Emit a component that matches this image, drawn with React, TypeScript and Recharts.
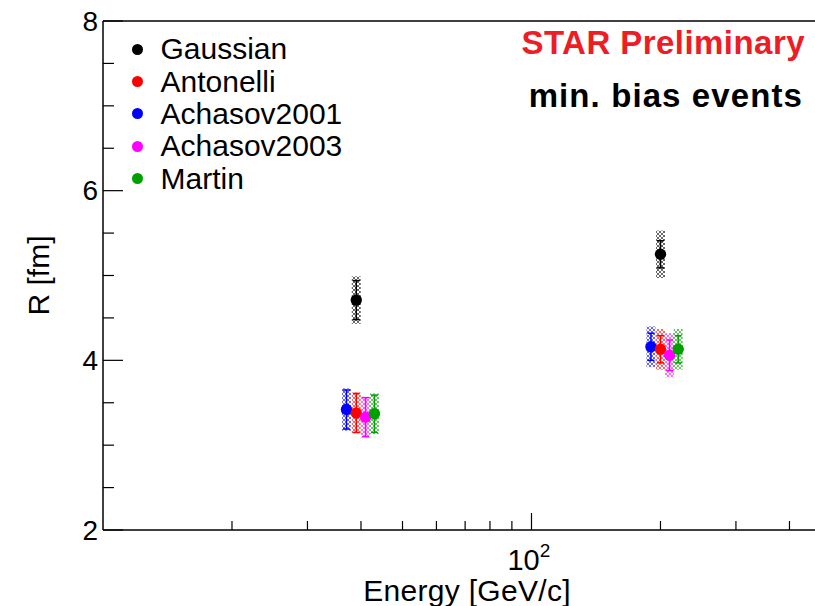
import React from "react";
import {
  ScatterChart,
  Scatter,
  XAxis,
  YAxis,
  ErrorBar,
  ReferenceLine,
  Label,
} from "recharts";

// beam energies as plotted (series are shifted slightly so the bars don't overlap)
const gaussianE = [39, 200];
const antonelliE = [39, 200];
const achasov2001E = [37, 190];
const achasov2003E = [41, 210];
const martinE = [43, 220];

// fitted radius R [fm]
const gaussianR = [4.71, 5.25];
const antonelliR = [3.38, 4.13];
const achasov2001R = [3.42, 4.16];
const achasov2003R = [3.33, 4.06];
const martinR = [3.37, 4.13];

// statistical errors
const gaussianStat = [0.23, 0.16];
const antonelliStat = [0.23, 0.16];
const achasov2001Stat = [0.23, 0.16];
const achasov2003Stat = [0.23, 0.18];
const martinStat = [0.22, 0.16];

// systematic errors (hatched bands)
const gaussianSys = [0.28, 0.28];
const antonelliSys = [0.24, 0.24];
const achasov2001Sys = [0.25, 0.24];
const achasov2003Sys = [0.24, 0.26];
const martinSys = [0.24, 0.24];

const xTicks = [20, 30, 40, 50, 60, 70, 80, 90, 100, 200, 300, 400];
const yTicks = [2, 2.5, 3, 3.5, 4, 4.5, 5, 5.5, 6, 6.5, 7, 7.5, 8];

const build = (e: number[], r: number[], stat: number[], sys: number[]) =>
  e.map((x, i) => ({ e: x, r: r[i], stat: stat[i], sys: sys[i] }));

const series = [
  { id: "gauss", name: "Gaussian", color: "#000000", data: build(gaussianE, gaussianR, gaussianStat, gaussianSys) },
  { id: "anto", name: "Antonelli", color: "#ff0000", data: build(antonelliE, antonelliR, antonelliStat, antonelliSys) },
  { id: "ach01", name: "Achasov2001", color: "#0000ff", data: build(achasov2001E, achasov2001R, achasov2001Stat, achasov2001Sys) },
  { id: "ach03", name: "Achasov2003", color: "#ff00ff", data: build(achasov2003E, achasov2003R, achasov2003Stat, achasov2003Sys) },
  { id: "martin", name: "Martin", color: "#00a000", data: build(martinE, martinR, martinStat, martinSys) },
];

// draw order: blue, red, magenta, green on top
const drawOrder = ["gauss", "ach01", "anto", "ach03", "martin"];

const FONT = "'Liberation Sans', Arial, Helvetica, sans-serif";

const YTick = (props: any) => {
  const { x, y, payload } = props;
  const major = payload.value % 2 === 0;
  return (
    <g>
      <line x1={x} x2={x + (major ? 20 : 11)} y1={y} y2={y} stroke="#000" strokeWidth={1.2} />
      {major && (
        <text x={x - 5} y={y} textAnchor="end" dominantBaseline="central" fontSize={28} fontFamily={FONT} fill="#000">
          {payload.value}
        </text>
      )}
    </g>
  );
};

const XTick = (props: any) => {
  const { x, y, payload } = props;
  const major = payload.value === 100;
  return (
    <g>
      <line x1={x} x2={x} y1={y} y2={y - (major ? 17 : 9)} stroke="#000" strokeWidth={1.2} />
      {major && (
        <text x={x - 24} y={y + 40} textAnchor="start" fontSize={29} fontFamily={FONT} fill="#000">
          10
          <tspan dy={-13} fontSize={19}>2</tspan>
        </text>
      )}
    </g>
  );
};

const YTitle = (props: any) => {
  const { viewBox } = props;
  const cx = viewBox.x + viewBox.width - 65;
  const cy = viewBox.y + viewBox.height / 2;
  return (
    <text x={cx} y={cy} transform={`rotate(-90 ${cx} ${cy})`} textAnchor="middle" dominantBaseline="central" fontSize={30} fontFamily={FONT} fill="#000">
      R [fm]
    </text>
  );
};

const XTitle = (props: any) => {
  const { viewBox } = props;
  const cx = viewBox.x + viewBox.width / 2;
  return (
    <text x={cx} y={viewBox.y + 71} textAnchor="middle" fontSize={30} letterSpacing={0.3} fontFamily={FONT} fill="#000">
      Energy [GeV/c]
    </text>
  );
};

const Dot = (color: string) => (props: any) => (
  <circle cx={props.cx} cy={props.cy} r={5.7} fill={color} />
);

export default function App() {
  const ordered = drawOrder.map((id) => series.find((s) => s.id === id)!);
  return (
    <div style={{ position: "fixed", left: 0, top: 0, width: 815, height: 606, overflow: "hidden", background: "#fff" }}>
      <svg width={0} height={0} style={{ position: "absolute" }}>
        <defs>
          {series.map((s) => (
            <pattern key={s.id} id={`hatch-${s.id}`} width={4} height={4} patternUnits="userSpaceOnUse">
              <path d="M0,0 L4,4 M4,0 L0,4" stroke={s.color} strokeWidth={0.8} strokeOpacity={0.75} />
            </pattern>
          ))}
        </defs>
      </svg>
      <ScatterChart width={851} height={606} margin={{ top: 21, right: 20, bottom: 16, left: 43 }}>
        <XAxis
          type="number"
          dataKey="e"
          scale="log"
          domain={[10, 500]}
          allowDataOverflow
          ticks={xTicks}
          interval={0}
          height={60}
          tickSize={0}
          tickMargin={0}
          tick={<XTick />}
          axisLine={{ stroke: "#000", strokeWidth: 1.5 }}
        >
          <Label content={<XTitle />} />
        </XAxis>
        <YAxis
          type="number"
          dataKey="r"
          domain={[2, 8]}
          allowDataOverflow
          ticks={yTicks}
          interval={0}
          width={60}
          tickSize={0}
          tickMargin={0}
          tick={<YTick />}
          axisLine={{ stroke: "#000", strokeWidth: 1.5 }}
        >
          <Label content={<YTitle />} />
        </YAxis>
        <ReferenceLine y={8} stroke="#000" strokeWidth={1.5} ifOverflow="visible" />
        {ordered.map((s) => (
          <Scatter key={s.id} name={s.name} data={s.data} fill={s.color} shape={Dot(s.color)} isAnimationActive={false}>
            <ErrorBar dataKey="sys" direction="y" width={0} stroke={`url(#hatch-${s.id})`} strokeWidth={9} isAnimationActive={false} />
            <ErrorBar dataKey="stat" direction="y" width={3.5} stroke={s.color} strokeWidth={1.5} isAnimationActive={false} />
          </Scatter>
        ))}
      </ScatterChart>

      {/* legend */}
      <div style={{ position: "absolute", left: 126, top: 33, fontFamily: FONT, fontSize: 30, color: "#000" }}>
        {series.map((s) => (
          <div key={s.id} style={{ display: "flex", alignItems: "center", height: 32.4 }}>
            <span style={{ display: "inline-block", width: 11, height: 11, borderRadius: "50%", background: s.color, marginLeft: 5.5, marginRight: 18 }} />
            <span>{s.name}</span>
          </div>
        ))}
      </div>

      <div style={{ position: "absolute", right: 10, top: 26, fontFamily: FONT, fontWeight: 700, fontSize: 33, lineHeight: "33px", textAlign: "right" }}>
        <div style={{ color: "#ee1c25", letterSpacing: 0.45 }}>STAR Preliminary</div>
        <div style={{ color: "#000", marginTop: 20, marginRight: 2, letterSpacing: 1.1 }}>min. bias events</div>
      </div>
    </div>
  );
}
